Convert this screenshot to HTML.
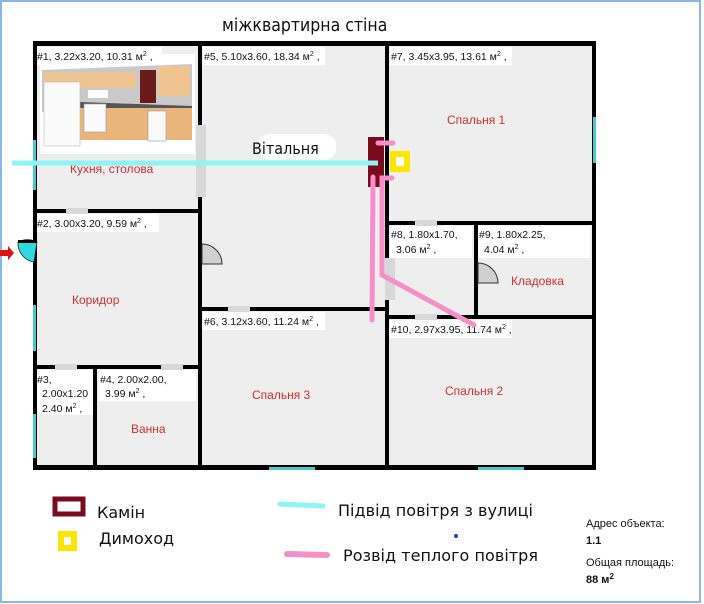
<!DOCTYPE html>
<html><head><meta charset="utf-8"><style>
html,body{margin:0;padding:0;background:#fff;}
svg{display:block;}
text{font-family:"Liberation Sans",sans-serif;}
.lb{font-size:10.5px;fill:#111;}
.rm{font-size:12px;fill:#d03030;}
.lg{font-size:16px;fill:#111;font-family:'DejaVu Sans',sans-serif;}
</style></head><body>
<svg width="704" height="604" viewBox="0 0 704 604" xmlns="http://www.w3.org/2000/svg">
<rect x="0" y="0" width="704" height="604" fill="#fff"/>
<rect x="1" y="1" width="699" height="601" fill="none" stroke="#8ab8e6" stroke-width="2"/>
<text x="222" y="31" font-size="17.5" fill="#111" style="font-family:'DejaVu Sans Condensed','DejaVu Sans',sans-serif">міжквартирна стіна</text>
<rect x="35" y="44" width="559" height="424" fill="#eeeeee"/>
<g fill="#fff">
<rect x="37" y="47" width="125" height="18"/>
<rect x="203" y="47" width="122" height="18"/>
<rect x="390" y="47" width="122" height="18"/>
<rect x="37" y="214" width="122" height="18"/>
<rect x="390" y="226" width="82" height="32"/>
<rect x="478" y="226" width="112" height="32"/>
<rect x="203" y="312" width="122" height="18"/>
<rect x="390" y="320" width="122" height="18"/>
<rect x="37" y="370" width="56" height="45"/>
<rect x="99" y="370" width="97" height="31"/>
</g>
<!-- kitchen image -->
<rect x="40" y="54" width="155" height="100" fill="#fff"/>
<polygon points="42,70 192,64 192,112 42,112" fill="#c9c9c9"/>
<rect x="44" y="72" width="92" height="16" fill="#f0c490"/>
<rect x="140" y="70" width="16" height="33" fill="#6b1a1a"/>
<rect x="158" y="66" width="32" height="30" fill="#f0c490"/>
<polygon points="80,102 192,106 192,112 80,108" fill="#555"/>
<rect x="80" y="108" width="112" height="32" fill="#e9b57a"/>
<rect x="44" y="82" width="36" height="64" fill="#fafafa" stroke="#bbb" stroke-width="0.6"/>
<rect x="84" y="104" width="22" height="28" fill="#fafafa" stroke="#999" stroke-width="0.6"/>
<rect x="148" y="111" width="18" height="30" fill="#fafafa" stroke="#999" stroke-width="0.6"/>
<rect x="88" y="90" width="20" height="8" fill="#fff"/>
<rect x="37" y="47" width="125" height="18" fill="#fff"/>
<text x="37" y="60" class="lb">#1, 3.22x3.20, 10.31 м<tspan dy="-4" font-size="7">2</tspan><tspan dy="4"> ,</tspan></text>
<text x="204" y="60" class="lb">#5, 5.10x3.60, 18.34 м<tspan dy="-4" font-size="7">2</tspan><tspan dy="4"> ,</tspan></text>
<text x="391" y="60" class="lb">#7, 3.45x3.95, 13.61 м<tspan dy="-4" font-size="7">2</tspan><tspan dy="4"> ,</tspan></text>
<text x="37" y="227" class="lb">#2, 3.00x3.20, 9.59 м<tspan dy="-4" font-size="7">2</tspan><tspan dy="4"> ,</tspan></text>
<text x="391" y="238" class="lb">#8, 1.80x1.70,</text>
<text x="396" y="253" class="lb">3.06 м<tspan dy="-4" font-size="7">2</tspan><tspan dy="4"> ,</tspan></text>
<text x="479" y="238" class="lb">#9, 1.80x2.25,</text>
<text x="484" y="253" class="lb">4.04 м<tspan dy="-4" font-size="7">2</tspan><tspan dy="4"> ,</tspan></text>
<text x="204" y="325" class="lb">#6, 3.12x3.60, 11.24 м<tspan dy="-4" font-size="7">2</tspan><tspan dy="4"> ,</tspan></text>
<text x="391" y="333" class="lb">#10, 2.97x3.95, 11.74 м<tspan dy="-4" font-size="7">2</tspan><tspan dy="4"> ,</tspan></text>
<text x="37" y="383" class="lb">#3,</text>
<text x="42" y="397" class="lb">2.00x1.20</text>
<text x="42" y="412" class="lb">2.40 м<tspan dy="-4" font-size="7">2</tspan><tspan dy="4"> ,</tspan></text>
<text x="100" y="383" class="lb">#4, 2.00x2.00,</text>
<text x="105" y="397" class="lb">3.99 м<tspan dy="-4" font-size="7">2</tspan><tspan dy="4"> ,</tspan></text>
<text x="70" y="173" class="rm">Кухня, столова</text>
<text x="72" y="304" class="rm">Коридор</text>
<text x="131" y="433" class="rm">Ванна</text>
<text x="252" y="399" class="rm">Спальня 3</text>
<text x="447" y="124" class="rm">Спальня 1</text>
<text x="511" y="285" class="rm">Кладовка</text>
<text x="445" y="395" class="rm">Спальня 2</text>
<rect x="258" y="134" width="78" height="26" rx="12" fill="#fff"/>
<text x="252" y="154" font-size="16" fill="#111" style="font-family:'DejaVu Sans Condensed','DejaVu Sans',sans-serif">Вітальня</text>
<g fill="#000">
<rect x="33" y="41" width="563" height="5"/>
<rect x="33" y="465" width="563" height="5"/>
<rect x="33" y="41" width="4" height="429"/>
<rect x="592" y="41" width="4" height="429"/>
<rect x="198" y="41" width="4" height="429"/>
<rect x="385" y="41" width="4" height="429"/>
<rect x="33" y="209" width="169" height="4"/>
<rect x="33" y="365" width="169" height="4"/>
<rect x="93" y="365" width="4" height="105"/>
<rect x="200" y="307" width="187" height="4"/>
<rect x="385" y="221" width="211" height="4"/>
<rect x="385" y="315" width="211" height="4"/>
<rect x="474" y="221" width="4" height="97"/>
</g>
<g fill="#d8d8d8">
<rect x="196" y="125" width="10" height="72"/>
<rect x="66" y="208" width="22" height="6"/>
<rect x="55" y="364" width="22" height="6"/>
<rect x="161" y="364" width="22" height="6"/>
<rect x="228" y="306" width="22" height="6"/>
<rect x="415" y="220" width="22" height="6"/>
<rect x="415" y="314" width="22" height="6"/>
<rect x="385" y="258" width="10" height="42"/>
</g>
<path d="M202 244 A20 20 0 0 1 222 264 L202 264 Z" fill="#d0d0d0" stroke="#333" stroke-width="1"/>
<path d="M478 263 A20 20 0 0 1 498 283 L478 283 Z" fill="#d0d0d0" stroke="#333" stroke-width="1"/>
<path d="M37 242 A20 20 0 0 0 18 242 A19 19 0 0 0 34 262 Z" fill="#30d8e0" stroke="#222" stroke-width="0.8"/>
<rect x="18" y="240" width="19" height="3" fill="#000"/>
<polygon points="0,250 8,250 8,246 14,253 8,260 8,256 0,256" fill="#e01010"/>
<g fill="#4cc8d0">
<rect x="33" y="140" width="3" height="50"/>
<rect x="33" y="305" width="3" height="46"/>
<rect x="33" y="414" width="3" height="44"/>
<rect x="593" y="117" width="3" height="46"/>
<rect x="269" y="467" width="46" height="3"/>
<rect x="478" y="467" width="46" height="3"/>
</g>
<rect x="368" y="137" width="16" height="50" fill="#7a0a1e"/>
<rect x="390" y="151" width="20" height="21" fill="#ffe600"/>
<rect x="396" y="157" width="8" height="9" fill="#fff"/>
<line x1="12" y1="163" x2="378" y2="163" stroke="#8ef4f4" stroke-width="5"/>
<g stroke="#f58fc8" stroke-width="5" stroke-linecap="round" fill="none">
<line x1="378" y1="143" x2="393" y2="143"/>
<polyline points="392,178 382,178 382,275 474,325"/>
<line x1="373" y1="177" x2="372" y2="320"/>
</g>
<rect x="55" y="499" width="28" height="15" fill="#fff" stroke="#7a0a1e" stroke-width="5"/>
<text x="97" y="518" class="lg">Камін</text>
<rect x="61" y="534" width="13" height="14" fill="#fff" stroke="#ffe600" stroke-width="6"/>
<text x="99" y="544" class="lg">Димоход</text>
<line x1="280" y1="504" x2="323" y2="506" stroke="#8ef4f4" stroke-width="5" stroke-linecap="round"/>
<text x="338" y="516" class="lg" textLength="195">Підвід повітря з вулиці</text>
<line x1="287" y1="554" x2="327" y2="555" stroke="#f58fc8" stroke-width="6" stroke-linecap="round"/>
<text x="343" y="561" class="lg" textLength="195">Розвід теплого повітря</text>
<circle cx="456" cy="536" r="2" fill="#3040a0"/>
<text x="586" y="527" font-size="11" fill="#111">Адрес объекта:</text>
<text x="586" y="544" font-size="11" font-weight="bold" fill="#111">1.1</text>
<text x="586" y="566" font-size="11" fill="#111">Общая площадь:</text>
<text x="586" y="583" font-size="11" font-weight="bold" fill="#111">88 м<tspan dy="-4" font-size="8">2</tspan></text>
</svg>
</body></html>
